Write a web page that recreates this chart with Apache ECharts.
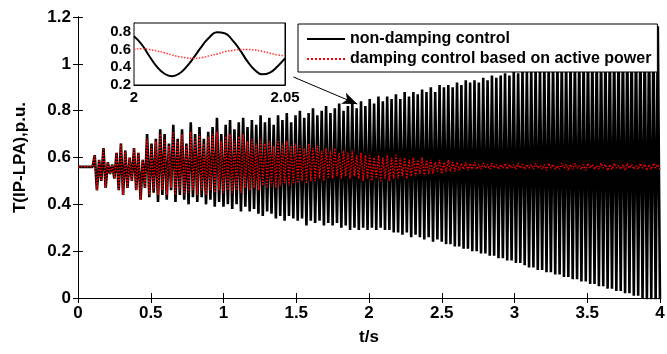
<!DOCTYPE html>
<html>
<head>
<meta charset="utf-8">
<script src="https://cdn.jsdelivr.net/npm/echarts@6/dist/echarts.min.js"></script>
<style>
  html, body { margin: 0; padding: 0; background: #fff; }
  #chart { width: 667px; height: 354px; }
</style>
</head>
<body>
<div id="chart"></div>
<script>
// oscillation: one max and one min per cycle
const T0 = 0.115;      // time of the first max
const PERIOD = 0.03;   // s, cycle length
const START_LEVEL = 0.56;

const blackPeaks = [
  0.61, 0.59, 0.64, 0.58, 0.57, 0.62, 0.66, 0.63, 0.60, 0.64,
  0.62, 0.59, 0.70, 0.66, 0.68, 0.72, 0.70, 0.66, 0.74, 0.68,
  0.72, 0.66, 0.75, 0.70, 0.73, 0.68, 0.71, 0.73, 0.77, 0.70,
  0.74, 0.76, 0.72, 0.75, 0.77, 0.73, 0.76, 0.74, 0.78, 0.75,
  0.77, 0.74, 0.78, 0.76, 0.79, 0.75, 0.78, 0.80, 0.77, 0.79,
  0.81, 0.78, 0.80, 0.82, 0.79, 0.81, 0.83, 0.80, 0.82, 0.84,
  0.81, 0.84, 0.82, 0.85, 0.83, 0.86, 0.84, 0.86, 0.85, 0.87,
  0.85, 0.88, 0.86, 0.88, 0.87, 0.89, 0.88, 0.90, 0.88, 0.91,
  0.90, 0.91, 0.90, 0.92, 0.91, 0.93, 0.92, 0.93, 0.92, 0.94,
  0.93, 0.95, 0.94, 0.95, 0.96, 0.95, 0.97, 0.96, 0.98, 0.98,
  0.99, 1.00, 1.00, 1.01, 1.01, 1.02, 1.02, 1.03, 1.03, 1.04,
  1.04, 1.05, 1.05, 1.06, 1.06, 1.07, 1.07, 1.08, 1.08, 1.09,
  1.09, 1.10, 1.10, 1.11, 1.11, 1.12, 1.12, 1.13, 1.14, 1.16
];
const blackTroughs = [
  0.46, 0.50, 0.47, 0.53, 0.51, 0.46, 0.44, 0.47, 0.50, 0.46,
  0.42, 0.47, 0.43, 0.45, 0.41, 0.44, 0.42, 0.46, 0.41, 0.44,
  0.42, 0.40, 0.43, 0.41, 0.43, 0.40, 0.42, 0.39, 0.41, 0.39,
  0.40, 0.38, 0.40, 0.37, 0.39, 0.37, 0.38, 0.36, 0.35, 0.37,
  0.36, 0.34, 0.35, 0.33, 0.35, 0.34, 0.33, 0.34, 0.31, 0.33,
  0.32, 0.33, 0.31, 0.32, 0.31, 0.32, 0.30, 0.31, 0.29, 0.30,
  0.29, 0.30, 0.29, 0.30, 0.29, 0.30, 0.29, 0.29, 0.28, 0.28,
  0.27, 0.28, 0.26, 0.27, 0.26, 0.25, 0.26, 0.24, 0.25, 0.24,
  0.23, 0.23, 0.22, 0.22, 0.21, 0.21, 0.20, 0.20, 0.19, 0.19,
  0.18, 0.18, 0.17, 0.17, 0.16, 0.16, 0.15, 0.15, 0.14, 0.13,
  0.13, 0.12, 0.12, 0.11, 0.11, 0.10, 0.10, 0.09, 0.09, 0.08,
  0.08, 0.07, 0.07, 0.06, 0.06, 0.05, 0.05, 0.04, 0.04, 0.03,
  0.03, 0.02, 0.02, 0.01, 0.01, 0.00, -0.01, -0.01, -0.02, -0.03
];
const redPeaks = [
  0.61, 0.59, 0.64, 0.58, 0.57, 0.62, 0.66, 0.63, 0.60, 0.64,
  0.62, 0.59, 0.68, 0.65, 0.67, 0.70, 0.68, 0.65, 0.71, 0.67,
  0.70, 0.65, 0.71, 0.68, 0.70, 0.66, 0.69, 0.70, 0.71, 0.67,
  0.69, 0.70, 0.67, 0.69, 0.70, 0.67, 0.68, 0.66, 0.68, 0.66,
  0.67, 0.65, 0.67, 0.66, 0.67, 0.65, 0.66, 0.65, 0.64, 0.66,
  0.64, 0.65, 0.63, 0.64, 0.63, 0.64, 0.62, 0.63, 0.62, 0.63,
  0.61, 0.62, 0.61, 0.61, 0.60, 0.61, 0.60, 0.61, 0.60, 0.61,
  0.60, 0.60, 0.59, 0.60, 0.59, 0.60, 0.59, 0.59, 0.58, 0.59,
  0.58, 0.59, 0.58, 0.58, 0.575, 0.58, 0.575, 0.58, 0.57, 0.575,
  0.57, 0.575, 0.57, 0.57, 0.575, 0.57, 0.57, 0.575, 0.57, 0.57,
  0.57, 0.575, 0.565, 0.57, 0.575, 0.57, 0.565, 0.575, 0.57, 0.57,
  0.575, 0.565, 0.57, 0.575, 0.57, 0.565, 0.575, 0.57, 0.57, 0.575,
  0.565, 0.57, 0.575, 0.57, 0.565, 0.575, 0.57, 0.57, 0.575, 0.57
];
const redTroughs = [
  0.46, 0.50, 0.47, 0.53, 0.51, 0.46, 0.44, 0.47, 0.50, 0.46,
  0.42, 0.47, 0.44, 0.46, 0.44, 0.46, 0.44, 0.47, 0.44, 0.46,
  0.44, 0.45, 0.46, 0.44, 0.46, 0.44, 0.46, 0.45, 0.46, 0.45,
  0.46, 0.45, 0.46, 0.45, 0.47, 0.46, 0.47, 0.46, 0.48, 0.47,
  0.48, 0.47, 0.48, 0.49, 0.48, 0.49, 0.49, 0.50, 0.49, 0.50,
  0.50, 0.51, 0.50, 0.51, 0.51, 0.52, 0.51, 0.52, 0.51, 0.52,
  0.51, 0.50, 0.51, 0.50, 0.51, 0.50, 0.51, 0.50, 0.51, 0.51,
  0.52, 0.51, 0.52, 0.52, 0.53, 0.52, 0.53, 0.53, 0.54, 0.53,
  0.54, 0.54, 0.54, 0.545, 0.55, 0.545, 0.55, 0.55, 0.55, 0.555,
  0.55, 0.555, 0.55, 0.555, 0.55, 0.555, 0.55, 0.555, 0.55, 0.555,
  0.55, 0.555, 0.55, 0.545, 0.555, 0.55, 0.55, 0.555, 0.545, 0.55,
  0.555, 0.55, 0.545, 0.555, 0.55, 0.55, 0.555, 0.545, 0.55, 0.555,
  0.55, 0.545, 0.555, 0.55, 0.55, 0.555, 0.545, 0.55, 0.555, 0.55
];

// zoomed window 2 ~ 2.05 s
const insetT = [
  2.0000, 2.0025, 2.0050, 2.0075, 2.0100, 2.0125, 2.0150, 2.0175, 2.0200, 2.0225,
  2.0250, 2.0275, 2.0300, 2.0325, 2.0350, 2.0375, 2.0400, 2.0425, 2.0450, 2.0475, 2.0500
];
const insetBlack = [
  0.75, 0.66, 0.53, 0.41, 0.33, 0.30, 0.33, 0.41, 0.52, 0.64,
  0.74, 0.795, 0.785, 0.71, 0.60, 0.47, 0.37, 0.32, 0.34, 0.41, 0.50
];
const insetRed = [
  0.60, 0.61, 0.60, 0.585, 0.565, 0.54, 0.52, 0.505, 0.50, 0.51,
  0.53, 0.55, 0.575, 0.59, 0.60, 0.60, 0.595, 0.58, 0.56, 0.54, 0.53
];

const xTicks = ['0', '0.5', '1', '1.5', '2', '2.5', '3', '3.5', '4'];
const yTicks = ['0', '0.2', '0.4', '0.6', '0.8', '1', '1.2'];

const buildWave = (peaks, troughs) => {
  const pts = [[0, START_LEVEL], [0.1, START_LEVEL]];
  for (let i = 0; i < peaks.length; i++) {
    pts.push([T0 + i * PERIOD, peaks[i]]);
    pts.push([T0 + i * PERIOD + PERIOD / 2, troughs[i]]);
  }
  return pts;
};

const FONT = 'Liberation Sans, Arial, sans-serif';
const tickStyle = { inside: true, length: 5, lineStyle: { color: '#000' } };
const lineStyle = { lineStyle: { color: '#000', width: 1 } };
const boldText = (size) => ({ color: '#000', fontWeight: 'bold', fontSize: size, fontFamily: FONT });

const chart = echarts.init(document.getElementById('chart'));

const option = {
  animation: false,
  backgroundColor: '#fff',
  grid: [
    { left: 78, right: 7, top: 17, bottom: 56, outerBoundsMode: 'none' },
    { left: 134, top: 23, width: 151, height: 62, show: true, backgroundColor: '#fff',
      borderColor: '#000', borderWidth: 1, outerBoundsMode: 'none', z: 5 }
  ],
  legend: {
    data: ['non-damping control', 'damping control based on active power'],
    orient: 'vertical',
    left: 298,
    top: 24,
    padding: [7, 6, 5, 8],
    itemGap: 4,
    itemWidth: 38,
    itemHeight: 16,
    backgroundColor: '#fff',
    borderColor: '#000',
    borderWidth: 1,
    borderRadius: 0,
    itemStyle: { opacity: 0 },
    textStyle: boldText(16),
    z: 6
  },
  xAxis: [
    {
      type: 'value', gridIndex: 0, min: 0, max: 4, interval: 0.5,
      axisLine: lineStyle, axisTick: tickStyle, splitLine: { show: false },
      axisLabel: { ...boldText(17), margin: 7, formatter: (v) => xTicks[Math.round(v / 0.5)] },
      name: 't/s', nameLocation: 'middle', nameGap: 31, nameTextStyle: boldText(17)
    },
    {
      type: 'value', gridIndex: 0, position: 'top', min: 0, max: 4, interval: 0.5,
      axisLine: lineStyle, axisTick: tickStyle, axisLabel: { show: false }, splitLine: { show: false }
    },
    {
      type: 'value', gridIndex: 1, min: 2, max: 2.05, interval: 0.05,
      axisLine: lineStyle, axisTick: { show: false }, splitLine: { show: false },
      axisLabel: { ...boldText(15), margin: 5, formatter: (v) => (v < 2.01 ? '2' : '2.05') }
    }
  ],
  yAxis: [
    {
      type: 'value', gridIndex: 0, min: 0, max: 1.2, interval: 0.2,
      axisLine: { show: true, ...lineStyle }, axisTick: tickStyle, splitLine: { show: false },
      axisLabel: { ...boldText(17), margin: 7, formatter: (v) => yTicks[Math.round(v / 0.2)] },
      name: 'T(IP-LPA),p.u.', nameLocation: 'middle', nameGap: 49, nameTextStyle: boldText(17)
    },
    {
      type: 'value', gridIndex: 0, position: 'right', min: 0, max: 1.2, interval: 0.2,
      axisLine: { show: true, ...lineStyle }, axisTick: tickStyle, axisLabel: { show: false }, splitLine: { show: false }
    },
    {
      type: 'value', gridIndex: 1, min: 0.2, max: 0.9, interval: 0.2,
      axisLine: { show: true, ...lineStyle }, axisTick: { inside: true, length: 4, lineStyle: { color: '#000' } },
      splitLine: { show: false },
      axisLabel: { ...boldText(15), margin: 3, showMaxLabel: false }
    },
    {
      type: 'value', gridIndex: 1, position: 'right', min: 0.2, max: 0.9, interval: 0.2,
      axisLine: { show: true, ...lineStyle }, axisTick: { inside: true, length: 4, lineStyle: { color: '#000' } },
      axisLabel: { show: false }, splitLine: { show: false }
    }
  ],
  series: [
    {
      name: 'non-damping control',
      type: 'line', xAxisIndex: 0, yAxisIndex: 0,
      data: buildWave(blackPeaks, blackTroughs),
      symbol: 'none',
      itemStyle: { color: '#000' },
      lineStyle: { color: '#000', width: 2.6 },
      markLine: {
        silent: true,
        symbol: ['none', 'arrow'],
        symbolSize: [9, 15],
        label: { show: false },
        lineStyle: { color: '#000', width: 1, type: 'solid' },
        data: [[{ coord: [1.48, 0.944] }, { coord: [1.92, 0.828] }]]
      }
    },
    {
      name: 'damping control based on active power',
      type: 'line', xAxisIndex: 0, yAxisIndex: 0,
      data: buildWave(redPeaks, redTroughs),
      symbol: 'none',
      itemStyle: { color: '#ff0000' },
      lineStyle: { color: '#ff0000', width: 1.5, type: 'dotted' }
    },
    {
      name: 'inset non-damping',
      type: 'line', xAxisIndex: 2, yAxisIndex: 2, z: 6,
      data: insetT.map((t, i) => [t, insetBlack[i]]),
      symbol: 'none', smooth: true,
      lineStyle: { color: '#000', width: 2 }
    },
    {
      name: 'inset damping',
      type: 'line', xAxisIndex: 2, yAxisIndex: 2, z: 6,
      data: insetT.map((t, i) => [t, insetRed[i]]),
      symbol: 'none', smooth: true,
      lineStyle: { color: '#ff3333', width: 1.5, type: 'dotted' }
    }
  ]
};

chart.setOption(option);
</script>
</body>
</html>
